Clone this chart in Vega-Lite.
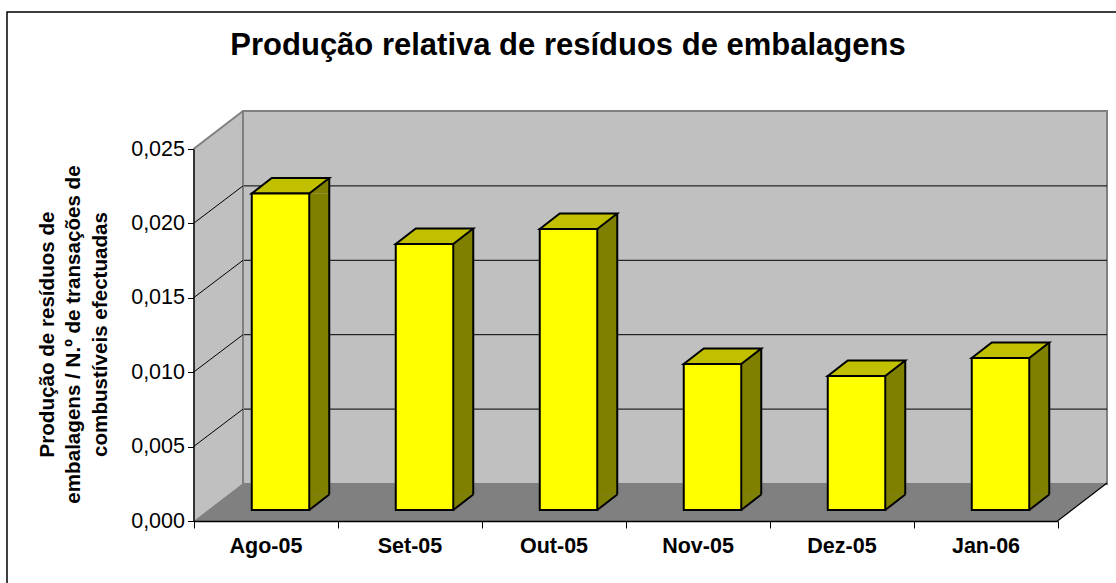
{
"$schema":"https://vega.github.io/schema/vega-lite/v6.json",
"width":1112,"height":574,
"autosize":{"type":"none"},
"padding":{"left":7,"top":12,"right":-3,"bottom":-3},
"background":"white",
"config":{"view":{"stroke":"black","strokeWidth":1.5},"font":"Liberation Sans"},
"title":{"text":"Produção relativa de resíduos de embalagens","font":"Liberation Sans","fontSize":31,"fontWeight":"bold","color":"black","anchor":"middle","dx":5,"offset":-74,"baseline":"alphabetic"},
"datasets":{
"meses":[{"mes":"Ago-05","valor":0.02127},{"mes":"Set-05","valor":0.01788},{"mes":"Out-05","valor":0.01888},{"mes":"Nov-05","valor":0.00981},{"mes":"Dez-05","valor":0.009},{"mes":"Jan-06","valor":0.01022}],
"niveis":[{"nivel":0.005},{"nivel":0.01},{"nivel":0.015},{"nivel":0.02}],
"um":[{"n":1}]
},
"encoding":{
"x":{"field":"mes","type":"nominal","sort":null,"scale":{"type":"band","domain":["Ago-05","Set-05","Out-05","Nov-05","Dez-05","Jan-06"],"range":[186.5,1050.5],"paddingInner":0,"paddingOuter":0},
"axis":{"title":null,"offset":-65,"zindex":1,"tickBand":"extent","labelAngle":0,"labelFont":"Liberation Sans","labelFontSize":21.5,"labelFontWeight":"bold","labelColor":"black","labelPadding":7,"tickColor":"black","domainColor":"black","tickSize":7,"tickWidth":1,"domainWidth":1.5}},
"y":{"type":"quantitative","scale":{"domain":[0,0.025],"range":[509,137],"nice":false,"zero":false}}
},
"layer":[
{"data":{"name":"um"},"mark":{"type":"rect","fill":"#C0C0C0","stroke":"#808080","strokeWidth":2,"xOffset":49.5,"x2Offset":49.5,"yOffset":-38,"y2Offset":-37},
 "encoding":{"x":{"datum":"Ago-05","bandPosition":0},"x2":{"datum":"Jan-06","bandPosition":1},"y":{"datum":0.025,"type":"quantitative"},"y2":{"datum":0}}},
{"data":{"name":"niveis"},"mark":{"type":"rule","color":"black","strokeWidth":1,"xOffset":49.5,"x2Offset":49.5,"yOffset":-37.5},
 "encoding":{"x":{"datum":"Ago-05","bandPosition":0},"x2":{"datum":"Jan-06","bandPosition":1},"y":{"field":"nivel","type":"quantitative"}}},
{"data":{"name":"um"},"mark":{"type":"point","shape":"M0,0L49.5,-38L49.5,-410L0,-372Z","size":4,"filled":true,"fill":"#C0C0C0","opacity":1},
 "encoding":{"x":{"datum":"Ago-05","bandPosition":0},"y":{"datum":0,"type":"quantitative"}}},
{"data":{"name":"um"},"mark":{"type":"point","shape":"M0,0L49.5,-38","size":4,"filled":false,"stroke":"#808080","strokeWidth":2,"opacity":1},
 "encoding":{"x":{"datum":"Ago-05","bandPosition":0},"y":{"datum":0.025,"type":"quantitative"}}},
{"data":{"name":"um"},"mark":{"type":"point","shape":"M49.5,-38L49.5,-410","size":4,"filled":false,"stroke":"#808080","strokeWidth":2,"opacity":1},
 "encoding":{"x":{"datum":"Ago-05","bandPosition":0},"y":{"datum":0,"type":"quantitative"}}},
{"data":{"name":"niveis"},"mark":{"type":"point","shape":"M0,0L49.5,-37.5","size":4,"filled":false,"stroke":"black","strokeWidth":1,"opacity":1},
 "encoding":{"x":{"datum":"Ago-05","bandPosition":0},"y":{"field":"nivel","type":"quantitative"}}},
{"data":{"name":"um"},"mark":{"type":"point","shape":"M0,0L49.5,-38L913.5,-38L864,0Z","size":4,"filled":true,"fill":"#808080","opacity":1},
 "encoding":{"x":{"datum":"Ago-05","bandPosition":0},"y":{"datum":0,"type":"quantitative"}}},
{"data":{"name":"um"},"mark":{"type":"point","shape":"M0,0L49.5,-38","size":4,"filled":false,"stroke":"black","strokeWidth":1.2,"opacity":1},
 "encoding":{"x":{"datum":"Jan-06","bandPosition":1},"y":{"datum":0,"type":"quantitative"}}},
{"data":{"name":"meses"},"mark":{"type":"bar","width":20,"fill":"#808000","xOffset":53.75,"yOffset":-11,"y2Offset":-26.5},
 "encoding":{"y":{"field":"valor","type":"quantitative","stack":null},"y2":{"datum":0}}},
{"data":{"name":"meses"},"mark":{"type":"point","shape":"M0,0L20,-15.5L20,0Z","size":4,"filled":true,"fill":"#808000","opacity":1,"xOffset":43.75,"yOffset":-11},
 "encoding":{"y":{"field":"valor","type":"quantitative"}}},
{"data":{"name":"meses"},"mark":{"type":"point","shape":"M0,0L20,-15.5L0,-15.5Z","size":4,"filled":true,"fill":"#808000","opacity":1,"xOffset":43.75,"yOffset":-11},
 "encoding":{"y":{"datum":0,"type":"quantitative"}}},
{"data":{"name":"meses"},"mark":{"type":"rule","color":"black","strokeWidth":2,"xOffset":63.75,"yOffset":-26.5,"y2Offset":-26.5},
 "encoding":{"y":{"field":"valor","type":"quantitative","stack":null},"y2":{"datum":0}}},
{"data":{"name":"meses"},"mark":{"type":"point","shape":"M0,0L20,-15.5","size":4,"filled":false,"stroke":"black","strokeWidth":2,"opacity":1,"xOffset":43.75,"yOffset":-11},
 "encoding":{"y":{"datum":0,"type":"quantitative"}}},
{"data":{"name":"meses"},"mark":{"type":"point","shape":"M-28.75,0L-8.75,-15.5L48.75,-15.5L28.75,0Z","size":4,"filled":true,"fill":"#C0C000","stroke":"black","strokeWidth":2,"opacity":1,"xOffset":15,"yOffset":-11},
 "encoding":{"y":{"field":"valor","type":"quantitative"}}},
{"data":{"name":"meses"},"mark":{"type":"bar","width":57.5,"fill":"#FFFF00","stroke":"black","strokeWidth":2,"xOffset":15,"yOffset":-11,"y2Offset":-11},
 "encoding":{"y":{"field":"valor","type":"quantitative","stack":null,
   "axis":{"title":["Produção de resíduos de","embalagens / N.º de transações de","combustíveis efectuadas"],"offset":-186.5,"zindex":1,"grid":false,"values":[0,0.005,0.01,0.015,0.02,0.025],"labelExpr":"replace(format(datum.value,'.3f'),'.',',')","labelFont":"Liberation Sans","labelFontSize":21.5,"labelColor":"black","labelPadding":3,"tickColor":"black","domainColor":"black","tickSize":6,"tickWidth":1,"domainWidth":1.5,"titleFont":"Liberation Sans","titleFontSize":20.6,"titleFontWeight":"bold","titleColor":"black","titleAngle":-90,"titleX":-140.5,"titleY":322,"titleAlign":"center","titleBaseline":"alphabetic","titleLineHeight":26.5}},
   "y2":{"datum":0}}}
]
}
